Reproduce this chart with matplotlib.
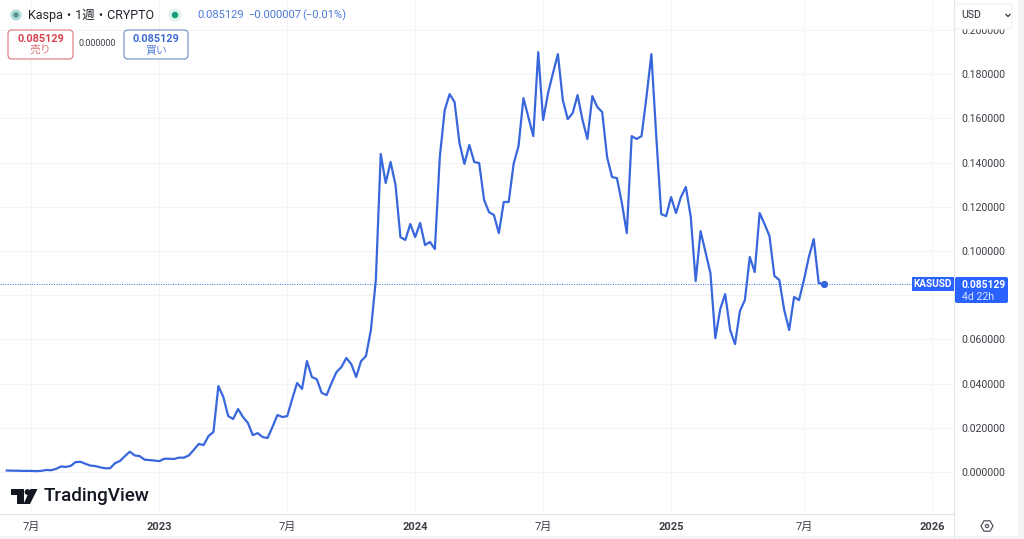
import matplotlib
matplotlib.use('Agg')
import matplotlib.pyplot as plt
from matplotlib.patches import FancyBboxPatch, Rectangle, Circle, Polygon, RegularPolygon

plt.rcParams['font.family'] = ['Roboto', 'Noto Sans CJK JP']

# weekly close, oldest first
close = [
    .0007, .0006, .0006, .0005, .0005, .0005, .0004, .0005, .0009, .0008,
    .0014, .0025, .0023, .0028, .0045, .0046, .0037, .0029, .0027, .0021,
    .0017, .0017, .0040, .0050, .0072, .0092, .0075, .0072, .0056, .0054,
    .0052, .0049, .0060, .0060, .0059, .0065, .0065, .0075, .0100, .0127,
    .0122, .0163, .0181, .0389, .0340, .0253, .0240, .0285, .0249, .0222,
    .0167, .0176, .0158, .0154, .0204, .0258, .0249, .0253, .0330, .0403,
    .0376, .0502, .0430, .0420, .0358, .0348, .0403, .0452, .0475, .0516,
    .0489, .0430, .0502, .0525, .0643, .0869, .1439, .1308, .1403, .1299,
    .1063, .1050, .1122, .1063, .1127, .1027, .1041, .1009, .1425, .1638,
    .1710, .1674, .1489, .1394, .1480, .1403, .1398, .1231, .1176, .1163,
    .1081, .1222, .1222, .1394, .1475, .1692, .1606, .1520, .1900, .1593,
    .1715, .1805, .1891, .1683, .1597, .1624, .1706, .1593, .1507, .1701,
    .1652, .1629, .1425, .1335, .1330, .1217, .1081, .1520, .1507, .1520,
    .1697, .1891, .1516, .1167, .1158, .1244, .1172, .1244, .1290, .1154,
    .0864, .1090, .0995, .0900, .0606, .0738, .0805, .0643, .0579, .0729,
    .0778, .0973, .0905, .1172, .1122, .1068, .0887, .0869, .0733, .0643,
    .0792, .0778, .0869, .0973, .1054, .0855, .0851,
]
weeks = list(range(len(close)))
last_price = 0.085129

time_ticks = [5, 31, 57, 83, 109, 135, 162, 188]
time_labels = ['7月', '2023', '7月', '2024', '7月', '2025', '7月', '2026']
price_ticks = [0.00, 0.02, 0.04, 0.06, 0.08, 0.10, 0.12, 0.14, 0.16, 0.18, 0.20]
price_labels = ['%.6f' % p for p in price_ticks]
price_labels[4] = ''   # hidden behind the last price tag

W, H = 1024, 539
LINE = '#3866dc'
TAG = '#2962ff'
TXT = '#3c4048'

fig = plt.figure(figsize=(W / 100, H / 100), dpi=100, facecolor='white')
ax = fig.add_axes([0, 1 - 514 / H, 954 / W, 514 / H])
ax.set_xlim(-1.38, 192.5)
ax.set_ylim(-0.0190, 0.2136)

ax.plot(weeks, close, color=LINE, lw=1.6, solid_joinstyle='round', zorder=3)
ax.plot(weeks[-1], close[-1], 'o', color=LINE, ms=4.2, zorder=4)
ax.axhline(last_price, color=LINE, lw=0.7, ls=(0, (1, 1.5)), zorder=2)

ax.set_xticks(time_ticks)
ax.set_xticklabels(time_labels)
ax.set_yticks(price_ticks)
ax.set_yticklabels(price_labels)
ax.yaxis.tick_right()
ax.tick_params(axis='x', length=0, pad=6, labelsize=8, labelcolor=TXT)
ax.tick_params(axis='y', length=0, pad=5.6, labelsize=7.6, labelcolor=TXT)
for lab in ax.get_xticklabels():
    if lab.get_text().isdigit():
        lab.set_fontweight('bold')
ax.grid(True, color='#f3f4f6', lw=0.8)
ax.set_axisbelow(True)
for s in ['top', 'left']:
    ax.spines[s].set_visible(False)
for s in ['right', 'bottom']:
    ax.spines[s].set_color('#e0e3eb')
    ax.spines[s].set_linewidth(0.8)

# page furniture, in pixels
ov = fig.add_axes([0, 0, 1, 1], facecolor='none')
ov.set_xlim(0, W)
ov.set_ylim(H, 0)
ov.axis('off')


def box(x0, y0, x1, y1, ec, fc='white', r=4, lw=0.8):
    ov.add_patch(FancyBboxPatch((x0 + r, y0 + r), x1 - x0 - 2 * r, y1 - y0 - 2 * r,
                                boxstyle='round,pad=%d,rounding_size=%d' % (r, r),
                                ec=ec, fc=fc, lw=lw, mutation_aspect=1))


def px_text(x, y, s, size, color=TXT, ha='left', weight='normal'):
    ov.text(x, y, s, fontsize=size, color=color, ha=ha, va='center', fontweight=weight)


ov.plot([954, 954], [514, 539], color='#e0e3eb', lw=0.8)
ov.add_patch(Rectangle((1018, 0), 6, H, color='#f3f3f3', lw=0))
ov.add_patch(Rectangle((0, 536), W, 3, color='#f3f3f3', lw=0))

# header
ov.add_patch(Circle((16, 15), 5.5, color='#a9dcd6', lw=0))
ov.add_patch(Circle((16, 15), 2.6, color='#5a8f8c', lw=0))
px_text(28, 15.5, 'Kaspa・1週・CRYPTO', 9.0, '#1f222b')
ov.add_patch(Circle((175, 15), 6.5, color='#dff3ee', lw=0))
ov.add_patch(Circle((175, 15), 3.2, color='#0f9d7a', lw=0))
px_text(197, 15, '0.085129', 8.0, '#4a78d8')
px_text(248, 15, '−0.000007', 8.0, '#4a78d8')
px_text(302, 15, '(−0.01%)', 8.0, '#4a78d8')

# sell / buy boxes
box(8, 30, 73, 59, '#e0737c')
px_text(40.5, 38.5, '0.085129', 7.8, '#d9434f', ha='center', weight='bold')
px_text(40.5, 50, '売り', 7.8, '#e0737c', ha='center')
px_text(97, 44, '0.000000', 6.5, TXT, ha='center')
box(124, 30, 188, 59, '#6b8cc9')
px_text(156, 38.5, '0.085129', 7.8, '#3e6bd6', ha='center', weight='bold')
px_text(156, 50, '買い', 7.8, '#5a80d8', ha='center')

# currency selector
box(955, 4, 1012, 29, '#eef0f3', r=3)
px_text(961, 15.5, 'USD', 7.6, '#2a2e39')
ov.plot([1006, 1008, 1010], [14.5, 16.5, 14.5], color='#2a2e39', lw=0.9)

# price tags
ov.add_patch(Rectangle((912, 277), 42, 14, color=TAG, lw=0))
px_text(933, 284.3, 'KASUSD', 7.2, 'white', ha='center', weight='bold')
box(955, 277, 1008, 303, TAG, fc=TAG, r=2, lw=0)
px_text(962, 284.5, '0.085129', 7.4, 'white', weight='bold')
px_text(962, 297, '4d 22h', 7.6, '#dfe7ff')

# logo
ov.add_patch(Polygon([(11, 489), (24, 489), (24, 504), (17, 504), (17, 495), (11, 495)],
                     color='#131722', lw=0))
ov.add_patch(Circle((27.5, 492), 2.9, color='#131722', lw=0))
ov.add_patch(Polygon([(30.5, 489), (37.5, 489), (30, 504), (23.5, 504)], color='#131722', lw=0))
px_text(44, 496, 'TradingView', 13.6, '#131722', weight='medium')

# settings icon
ov.add_patch(RegularPolygon((987, 526), 6, radius=6, orientation=0.5236, fc='none',
                            ec='#50535e', lw=0.9))
ov.add_patch(Circle((987, 526), 1.6, fc='none', ec='#50535e', lw=0.9))

plt.savefig('out.png', dpi=100)
